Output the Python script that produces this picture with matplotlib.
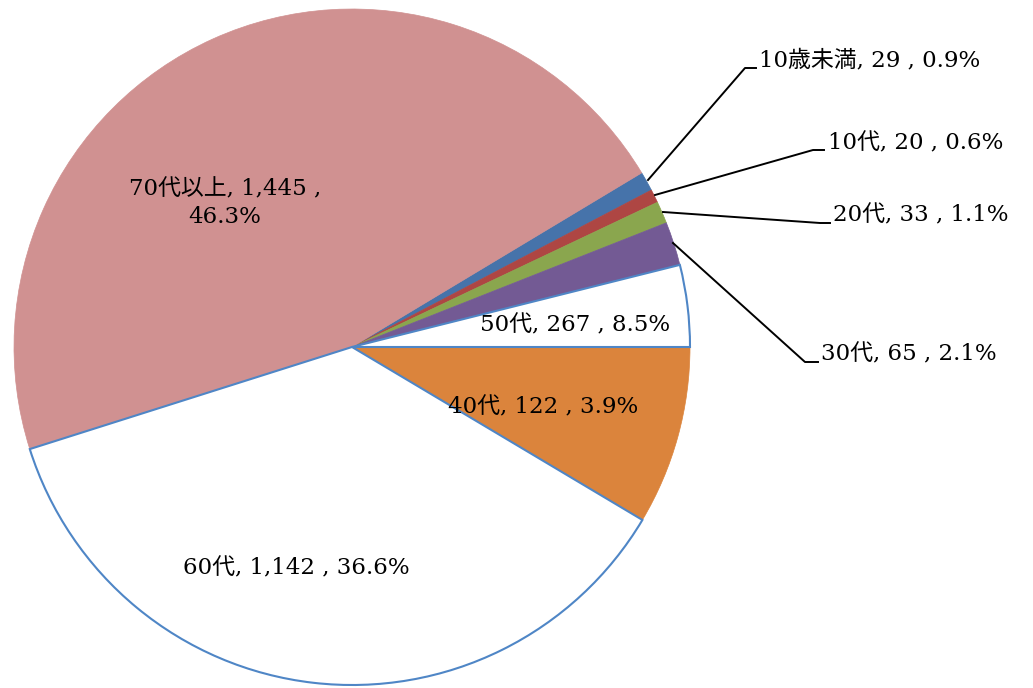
import numpy as np
import matplotlib.pyplot as plt

plt.rcParams['font.family'] = ['DejaVu Serif', 'Noto Sans CJK JP']

# data (clockwise order as drawn)
names = ["10歳未満", "10代", "20代", "30代", "40代", "50代", "60代", "70代以上"]
counts = [29, 20, 33, 65, 122, 267, 1142, 1445]
colors = ["#4673AA", "#AE4643", "#8AA64E", "#735A94", "#FFFFFF",
          "#DB843C", "#FFFFFF", "#D09191"]

EDGE = "#4F86C6"
W, H = 1033, 688
CX, CY, R = 352, 347, 338   # pie centre / radius in pixels


def px(x, y):
    # pixel position -> data coords (pie radius = 1)
    return (x - CX) / R, (CY - y) / R


total = sum(counts)
pcts = [c / total * 100 for c in counts]
labels = [f"{n}, {c:,} , {p:.1f}%" for n, c, p in zip(names, counts, pcts)]

fig = plt.figure(figsize=(W / 100, H / 100), dpi=100)
ax = fig.add_axes([0, 0, 1, 1])

# first five slices end exactly at 3 o'clock
start = 360 * sum(counts[:5]) / total
wedges, _ = ax.pie(counts, colors=colors, startangle=start, counterclock=False,
                   radius=1, center=(0, 0))
for w, c in zip(wedges, colors):
    if c == "#FFFFFF":
        w.set_edgecolor(EDGE)
        w.set_linewidth(1.5)
        w.set_zorder(3)
    else:
        w.set_edgecolor(c)
        w.set_linewidth(0.5)

ax.set_xlim(-CX / R, (W - CX) / R)
ax.set_ylim(-(H - CY) / R, CY / R)
ax.set_aspect("equal")
ax.axis("off")

fs = 16.5

# inside labels (50代 / 40代 labels sit swapped, as in the original)
ax.text(*px(225, 203), "{}, {:,} ,\n{:.1f}%".format(names[7], counts[7], pcts[7]),
        ha="center", va="center", fontsize=fs, linespacing=1.3, zorder=5)
ax.text(*px(296, 568), labels[6], ha="center", va="center", fontsize=fs, zorder=5)
ax.text(*px(575, 325), labels[5], ha="center", va="center", fontsize=fs, zorder=5)
ax.text(*px(543, 407), labels[4], ha="center", va="center", fontsize=fs, zorder=5)

# outside labels with leader lines
leaders = [
    (0, [(648, 180), (745, 68), (756, 68)], (759, 60)),
    (1, [(655, 195), (813, 150), (824, 150)], (828, 143)),
    (2, [(663, 212), (820, 223), (830, 223)], (833, 215)),
    (3, [(673, 243), (805, 362), (818, 362)], (821, 354)),
]
for i, pts, tp in leaders:
    xs, ys = zip(*[px(x, y) for x, y in pts])
    ax.plot(xs, ys, color="black", lw=1.4, zorder=4)
    ax.text(*px(*tp), labels[i], ha="left", va="center", fontsize=fs, zorder=5)

fig.savefig("out.png", dpi=100)
